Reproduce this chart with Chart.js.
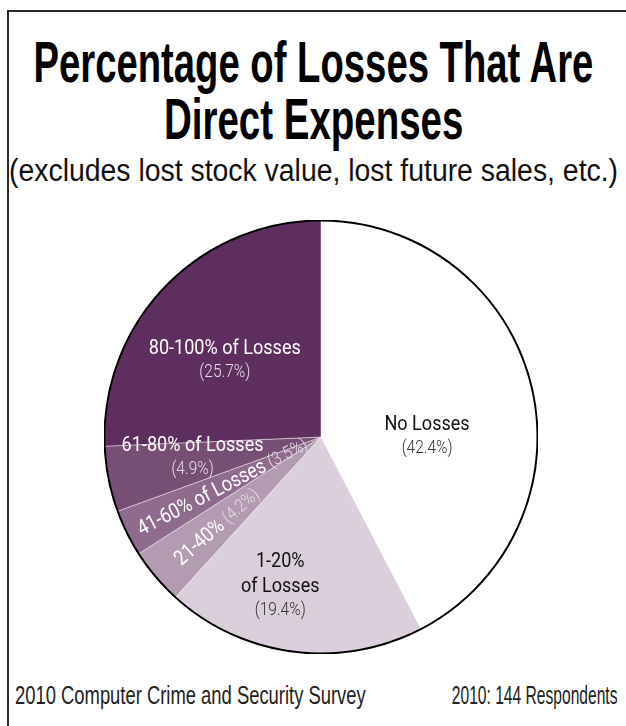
<!DOCTYPE html>
<html>
<head>
<meta charset="utf-8">
<script src="https://cdn.jsdelivr.net/npm/chart.js@4"></script>
<style>
  html, body { margin: 0; padding: 0; background: #fff; }
  body { width: 626px; height: 726px; position: relative; overflow: hidden;
         font-family: "Liberation Sans", Arial, sans-serif; color: #111; }
  .frame { position: absolute; left: 7px; top: 10px; width: 700px; height: 800px;
           border-left: 2px solid #2a2a2a; border-top: 2px solid #2a2a2a; }
  .txt { position: absolute; white-space: nowrap; }
  .title { font-weight: bold; font-size: 58px; line-height: 58px; color: #000; }
  .sub { font-size: 31px; line-height: 31px; color: #111; }
  .foot { font-size: 25px; line-height: 25px; color: #222; }
  #pie { position: absolute; left: 104px; top: 220px; }
</style>
</head>
<body>
<div class="frame"></div>
<div class="txt title" style="top:33px" data-c="313" data-w="560">Percentage of Losses That Are</div>
<div class="txt title" style="top:90px" data-c="313" data-w="299">Direct Expenses</div>
<div class="txt sub" style="top:155px" data-c="313" data-w="609">(excludes lost stock value, lost future sales, etc.)</div>
<div class="txt foot" style="top:683px" data-l="15" data-w="351">2010 Computer Crime and Security Survey</div>
<div class="txt foot" style="top:683px" data-r="618" data-w="166">2010: 144 Respondents</div>
<canvas id="pie" width="434" height="434"></canvas>
<script>
const categories = ['No Losses', '1-20% of Losses', '21-40%', '41-60% of Losses', '61-80% of Losses', '80-100% of Losses'];
const shares = [42.4, 19.4, 4.2, 3.5, 4.9, 25.7];
const sliceColors = ['#ffffff', '#dccfdc', '#b39bb2', '#8f6b8d', '#774e74', '#5e2f5e'];

// label placement: radius fraction + angle shift (deg) from slice middle
const labelLayout = [
  { r: 0.49, shift: 13,   rotate: false, split: false, color: '#111', pctColor: '#333' },
  { r: 0.71, shift: 8,    rotate: false, split: true,  color: '#111', pctColor: '#333' },
  { r: 0.635, shift: -1,  rotate: true,  color: '#fff', pctColor: '#e6dce6' },
  { r: 0.51, shift: -1,   rotate: true,  color: '#fff', pctColor: '#e6dce6' },
  { r: 0.60, shift: 2.6,  rotate: false, split: false, color: '#fff', pctColor: '#e6dce6' },
  { r: 0.57, shift: -5,   rotate: false, split: false, color: '#fff', pctColor: '#e6dce6' }
];

const FONT = 'Roboto, "Liberation Sans", sans-serif';
const SQUEEZE = 0.86; // condensed look for the slice labels

// squeeze html text to the widths seen in the picture
document.querySelectorAll('.txt').forEach(el => {
  const w = el.offsetWidth;
  const k = parseFloat(el.dataset.w) / w;
  if (el.dataset.c) {
    el.style.left = (parseFloat(el.dataset.c) - w / 2) + 'px';
    el.style.transformOrigin = '50% 50%';
  } else if (el.dataset.l) {
    el.style.left = el.dataset.l + 'px';
    el.style.transformOrigin = '0 50%';
  } else {
    el.style.left = (parseFloat(el.dataset.r) - w) + 'px';
    el.style.transformOrigin = '100% 50%';
  }
  el.style.transform = 'scaleX(' + k + ')';
});

const outlinePlugin = {
  id: 'outline',
  afterDatasetsDraw(chart) {
    const arc = chart.getDatasetMeta(0).data[0];
    const ctx = chart.ctx;
    ctx.save();
    ctx.beginPath();
    ctx.arc(arc.x, arc.y, arc.outerRadius, 0, Math.PI * 2);
    ctx.lineWidth = 2;
    ctx.strokeStyle = '#000';
    ctx.stroke();
    ctx.restore();
  }
};

const labelPlugin = {
  id: 'sliceLabels',
  afterDatasetsDraw(chart) {
    const ctx = chart.ctx;
    chart.getDatasetMeta(0).data.forEach((arc, i) => {
      const L = labelLayout[i];
      const mid = (arc.startAngle + arc.endAngle) / 2 + L.shift * Math.PI / 180;
      const rr = arc.outerRadius * L.r;
      const x = arc.x + rr * Math.cos(mid);
      const y = arc.y + rr * Math.sin(mid);
      const pct = '(' + shares[i] + '%)';
      ctx.save();
      ctx.translate(x, y);
      ctx.textBaseline = 'middle';
      if (L.rotate) {
        ctx.rotate(mid + Math.PI);
        ctx.scale(SQUEEZE, 1);
        ctx.font = '21px ' + FONT;
        const w1 = ctx.measureText(categories[i] + ' ').width;
        ctx.font = '300 18px ' + FONT;
        const w2 = ctx.measureText(pct).width;
        const sx = -(w1 + w2) / 2;
        ctx.textAlign = 'left';
        ctx.font = '21px ' + FONT;
        ctx.fillStyle = L.color;
        ctx.fillText(categories[i], sx, 0);
        ctx.font = '300 18px ' + FONT;
        ctx.fillStyle = L.pctColor;
        ctx.fillText(pct, sx + w1, 0);
      } else {
        ctx.scale(SQUEEZE, 1);
        ctx.textAlign = 'center';
        let lines = [categories[i]];
        if (L.split) {
          const k = categories[i].indexOf(' ');
          lines = [categories[i].slice(0, k), categories[i].slice(k + 1)];
        }
        const rows = lines.map(t => ({ t, font: '21px ' + FONT, color: L.color, h: 25 }));
        rows.push({ t: pct, font: '300 18px ' + FONT, color: L.pctColor, h: 21 });
        const total = rows.reduce((s, r) => s + r.h, 0);
        let yy = -total / 2;
        rows.forEach(r => {
          ctx.font = r.font;
          ctx.fillStyle = r.color;
          ctx.fillText(r.t, 0, yy + r.h / 2);
          yy += r.h;
        });
      }
      ctx.restore();
    });
  }
};

new Chart(document.getElementById('pie'), {
  type: 'pie',
  data: {
    labels: categories,
    datasets: [{
      data: shares,
      backgroundColor: sliceColors,
      borderColor: 'rgba(255,255,255,0.45)',
      borderWidth: 1
    }]
  },
  options: {
    responsive: false,
    animation: false,
    layout: { padding: 0 },
    plugins: { legend: { display: false }, tooltip: { enabled: false } }
  },
  plugins: [outlinePlugin, labelPlugin]
});
</script>
</body>
</html>
